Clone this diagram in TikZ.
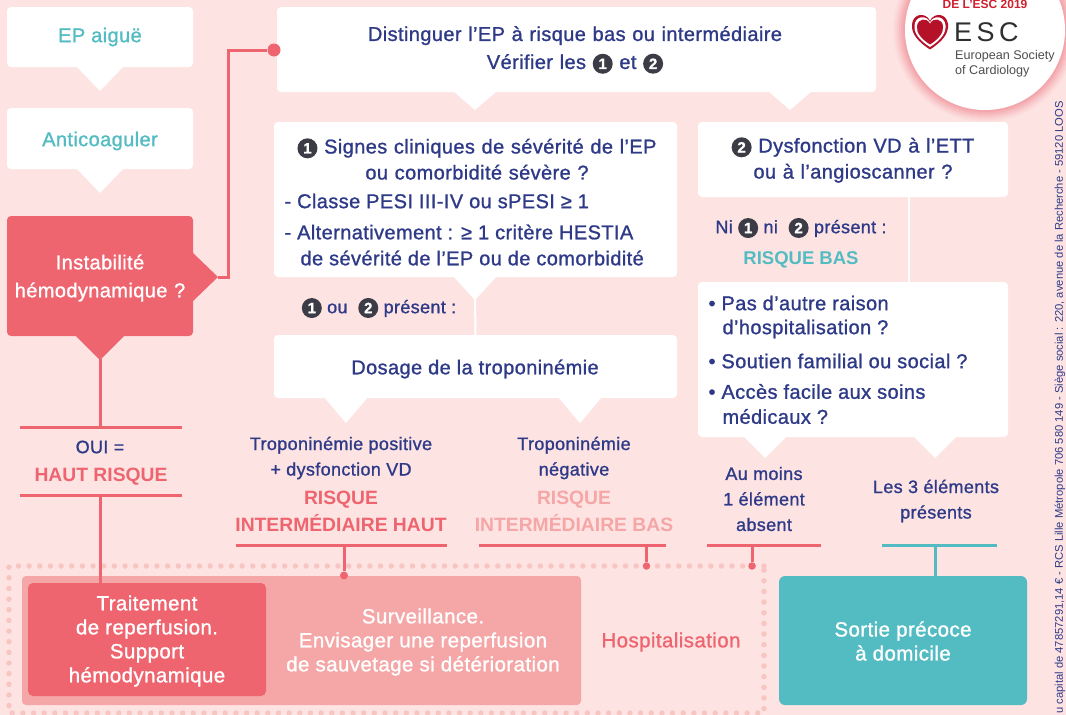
\documentclass[tikz,border=0pt]{standalone}
\usepackage{fontspec}
\setmainfont{Liberation Sans}
\newfontfamily\medfont[FakeBold=1.1, LetterSpace=2]{Liberation Sans}
\newfontfamily\sidefont{Liberation Sans}
\usetikzlibrary{calc}
\definecolor{bgpink}{HTML}{FDE4E3}
\definecolor{redbox}{HTML}{EE6570}
\definecolor{softred}{HTML}{F5A6A6}
\definecolor{dotpink}{HTML}{F9C5C2}
\definecolor{tealbox}{HTML}{53BCC2}
\definecolor{navytxt}{HTML}{2E3A87}
\definecolor{discgrey}{HTML}{3C3C46}
\definecolor{logored}{HTML}{B5122A}
\definecolor{titlered}{HTML}{D0202E}
\definecolor{logogrey}{HTML}{2F2F2F}
\tikzset{
	whitebox/.style={fill=white, rounded corners=4pt},
	txt/.style={font=\medfont\fontsize{20}{26}\selectfont, text=navytxt, align=center},
	whitetxt/.style={font=\medfont\fontsize{20.5}{24}\selectfont, text=white, align=center},
	smalltxt/.style={font=\medfont\fontsize{18}{25.5}\selectfont, text=navytxt, align=center},
	bigred/.style={font=\fontsize{19.3}{27}\selectfont\bfseries, align=center},
	redline/.style={draw=redbox, line width=3pt},
	tealline/.style={draw=tealbox, line width=3pt},
	dot/.style={circle, fill=redbox, inner sep=0pt, minimum size=#1},
}
% numbered disc inside the text
\newcommand{\numdisc}[1]{\tikz[baseline=(d.base)]\node[circle, fill=discgrey, text=white, inner sep=0pt, minimum size=20pt, font=\fontsize{15}{15}\selectfont\bfseries] (d) {#1};}
% box between two corners
\newcommand{\boxAt}[6]{\path[#6] (#2,#3) rectangle (#4,#5) node[pos=.5, inner sep=0pt] (#1) {};}
% triangular tip below a box
\newcommand{\tipDown}[5]{\fill[#5] (#1-#2,#3) -- (#1+#2,#3) -- (#1,#4) -- cycle;}
% heart of the logo, #1 is its half width
\newcommand{\logoHeart}[2]{\fill[#2] (930,31.5+#1) .. controls (930-.7*#1,31.5+.55*#1) and (930-1.05*#1,31.5+.1*#1) .. (930-#1,31.5-.4*#1) .. controls (930-.95*#1,31.5-#1) and (930-.25*#1,31.5-1.1*#1) .. (930,31.5-.6*#1) .. controls (930+.25*#1,31.5-1.1*#1) and (930+.95*#1,31.5-#1) .. (930+#1,31.5-.4*#1) .. controls (930+1.05*#1,31.5+.1*#1) and (930+.7*#1,31.5+.55*#1) .. (930,31.5+#1) -- cycle;}

\begin{document}
\begin{tikzpicture}[x=1pt, y=-1pt]
	\useasboundingbox (0,0) rectangle (1066,715);
	\clip (0,0) rectangle (1066,715);
	\fill[bgpink] (0,0) rectangle (1066,715);

	% Draw logo disc
	\foreach \r/\o in {92/.05, 90/.07, 88/.09, 86/.11, 84/.13, 82/.15}
		\fill[redbox, opacity=\o] (985,30) circle (\r);
	\fill[white] (985,30) circle (80);
	\node[font=\fontsize{12}{12}\selectfont\bfseries, text=titlered] (esctitle) at (985,4.5) {DE L’ESC 2019};
	\logoHeart{18}{logored}
	\logoHeart{15.5}{white}
	\logoHeart{13}{logored}
	\node[font=\fontsize{27}{27}\selectfont, text=logogrey, anchor=west, inner sep=0pt] (esclogo) at (954,32) {E\,S\,C};
	\node[font=\fontsize{12.6}{15}\selectfont, text=logogrey!85, anchor=west, align=left, inner sep=0pt] (escname) at (955,64) {European Society\\of Cardiology};

	% White boxes with their tips
	\boxAt{epbox}{7}{7}{193}{67}{whitebox}
	\tipDown{100}{24}{66}{91}{white}
	\boxAt{anticobox}{7}{108}{193}{169}{whitebox}
	\tipDown{100}{24}{168}{193}{white}
	\boxAt{topbox}{277}{7}{876}{92}{whitebox}
	\tipDown{475}{22}{91}{110}{white}
	\tipDown{790}{22}{91}{110}{white}
	\boxAt{signbox}{274}{122}{677}{277}{whitebox}
	\tipDown{475}{22}{276}{300}{white}
	\boxAt{dysfbox}{698}{122}{1008}{197}{whitebox}
	\boxAt{critbox}{698}{282}{1008}{437}{whitebox}
	\tipDown{765}{22}{436}{458}{white}
	\tipDown{935}{22}{436}{458}{white}
	\boxAt{dosebox}{274}{335}{677}{398}{whitebox}
	\tipDown{346}{22}{397}{423}{white}
	\tipDown{580}{22}{397}{423}{white}

	\draw[white, line width=2pt] (475,299) -- (dosebox.center |- 0,336);
	\draw[white, line width=2pt] (909,196) -- (909,283);

	% Red box with its tips
	\boxAt{instabox}{7}{216}{193}{336}{fill=redbox, rounded corners=4pt}
	\fill[redbox] (192,252) -- (218,277) coordinate (instatip) -- (192,302) -- cycle;
	\tipDown{100}{25}{335}{360}{redbox}
	\coordinate (instadown) at (100,359);

	% Dotted frame
	\draw[dotpink, line width=5.5pt, line cap=round, dash pattern=on 0pt off 10.65pt] (764,566) -- (9,566) -- (9,713) -- (764,713) -- cycle;

	% Bottom boxes
	\boxAt{survbox}{22}{576}{581}{705}{fill=softred, rounded corners=4pt}
	\boxAt{traitbox}{28}{583}{266}{696}{fill=redbox, rounded corners=5pt}
	\boxAt{sortiebox}{779}{576}{1027}{705}{fill=tealbox, rounded corners=6pt}

	% Tee lines
	\coordinate (ouiA) at (20,427); \coordinate (ouiB) at (182,427);
	\coordinate (ouiC) at (20,495); \coordinate (ouiD) at (182,495);
	\coordinate (ihA) at (236,545); \coordinate (ihB) at (447,545);
	\coordinate (ibA) at (479,545); \coordinate (ibB) at (666,545);
	\coordinate (absA) at (707,545); \coordinate (absB) at (821,545);
	\coordinate (preA) at (882,545); \coordinate (preB) at (997,545);
	\draw[redline] (ouiA) -- (ouiB);
	\draw[redline] (ouiC) -- (ouiD);
	\draw[redline] (ihA) -- (ihB);
	\draw[redline] (ibA) -- (ibB);
	\draw[redline] (absA) -- (absB);
	\draw[tealline] (preA) -- (preB);
	\draw[redline] (instadown) -- (100,427);
	\draw[redline] (100,495) -- (100,584);
	\draw[tealline] (935,545) -- (935,577);

	\node[dot=13pt] (dotone) at (274,50) {};
	\node[dot=8pt] (dottwo) at (344,575.5) {};
	\node[dot=7.5pt] (dotthree) at (646.5,566) {};
	\node[dot=7.5pt] (dotfour) at (752,566) {};
	\draw[redline] (instatip) -- (228,277) -- (228,50) -- (dotone);
	\draw[redline] (344,545) -- (dottwo);
	\draw[redline] (646.5,545) -- (dotthree);
	\draw[redline] (752,545) -- (dotfour);

	% Texts
	\node[font=\medfont\fontsize{20}{24}\selectfont, text=tealbox] (eptxt) at (100,37) {EP aiguë};
	\node[font=\medfont\fontsize{20}{24}\selectfont, text=tealbox] (anticotxt) at (100,141) {Anticoaguler};
	\node[whitetxt, text width=180pt, font=\medfont\fontsize{20}{28}\selectfont] (instatxt) at (100,278) {Instabilité\\hémodynamique ?};
	\node[txt, text width=590pt, font=\medfont\fontsize{20}{28}\selectfont] (toptxt) at (575,50) {Distinguer l’EP à risque bas ou intermédiaire\\Vérifier les \numdisc{1} et \numdisc{2}};
	\node[txt, text width=390pt] (signtxt) at (477,159) {\numdisc{1} Signes cliniques de sévérité de l’EP\\ou comorbidité sévère ?};
	\node[txt, anchor=west, align=left] (peside) at (281,201) {- Classe PESI III-IV ou sPESI ≥ 1};
	\node[txt, anchor=west, align=left] (hestia) at (281,245) {- Alternativement : ≥ 1 critère HESTIA\\\hspace*{16pt}de sévérité de l’EP ou de comorbidité};
	\node[txt, text width=300pt] (dysftxt) at (853,160) {\numdisc{2} Dysfonction VD à l’ETT\\ou à l’angioscanner ?};
	\node[smalltxt] (nini) at (801,228) {Ni \numdisc{1} ni~ \numdisc{2} présent :};
	\node[font=\fontsize{18.5}{20}\selectfont\bfseries, text=tealbox] (basrisk) at (801,260) {RISQUE BAS};
	\node[txt, anchor=west, align=left, font=\medfont\fontsize{20}{24}\selectfont] (crit) at (705,317) {\textbullet\ Pas d’autre raison\\\hspace*{14pt}d’hospitalisation ?};
	\node[txt, anchor=west, align=left] (critb) at (705,361) {\textbullet\ Soutien familial ou social ?};
	\node[txt, anchor=west, align=left, font=\medfont\fontsize{20}{25}\selectfont] (critc) at (705,404) {\textbullet\ Accès facile aux soins\\\hspace*{14pt}médicaux ?};
	\node[smalltxt] (oupres) at (379,308) {\numdisc{1} ou~ \numdisc{2} présent :};
	\node[txt] (dosetxt) at (475,369) {Dosage de la troponinémie};
	\node[smalltxt] (ouitxt) at (100,447) {OUI =};
	\node[bigred, text=redbox] (hauttxt) at (101,477) {HAUT RISQUE};
	\node[smalltxt] (tropos) at (341,458) {Troponinémie positive\\+ dysfonction VD};
	\node[bigred, text=redbox] (interhaut) at (341,511) {RISQUE\\INTERMÉDIAIRE HAUT};
	\node[smalltxt] (troneg) at (574,458) {Troponinémie\\négative};
	\node[bigred, text=softred] (interbas) at (574,511) {RISQUE\\INTERMÉDIAIRE BAS};
	\node[smalltxt] (moins) at (764,499) {Au moins\\1 élément\\absent};
	\node[smalltxt] (trois) at (936,501) {Les 3 éléments\\présents};
	\node[whitetxt] (traittxt) at (147,641) {Traitement\\de reperfusion.\\Support\\hémodynamique};
	\node[whitetxt] (survtxt) at (423,642) {Surveillance.\\Envisager une reperfusion\\de sauvetage si détérioration};
	\node[font=\medfont\fontsize{20.5}{24}\selectfont, text=redbox] (hosptxt) at (671,642) {Hospitalisation};
	\node[whitetxt] (sortietxt) at (903,641) {Sortie précoce\\à domicile};

	% Side line
	\node[font=\sidefont\fontsize{11.2}{11}\selectfont, text=navytxt, rotate=90, anchor=east, inner sep=0pt] (sideline) at (1060,101) {u capital de 47857291,14 € - RCS Lille Métropole 706 580 149 - Siège social : 220, avenue de la Recherche - 59120 LOOS};
\end{tikzpicture}
\end{document}
